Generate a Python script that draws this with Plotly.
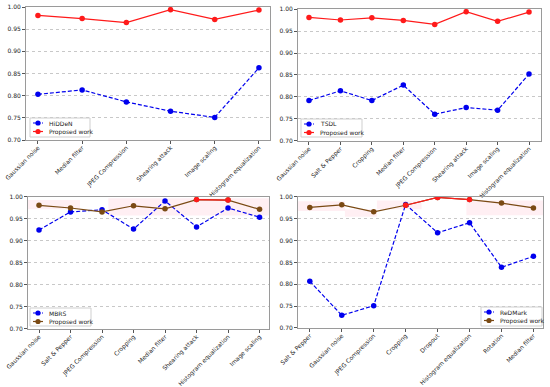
import plotly.graph_objects as go

# ---------------- data ----------------
cats1 = ["Gaussian noise", "Median filter", "JPEG Compression", "Shearing attack",
         "Image scaling", "Histogram equalization"]
hidden_vals = [0.803, 0.813, 0.786, 0.765, 0.751, 0.863]
prop1_vals = [0.981, 0.974, 0.965, 0.994, 0.972, 0.993]

cats2 = ["Gaussian noise", "Salt & Pepper", "Cropping", "Median filter",
         "JPEG Compression", "Shearing attack", "Image scaling", "Histogram equalization"]
tsdl_vals = [0.792, 0.814, 0.792, 0.827, 0.761, 0.776, 0.770, 0.852]
prop2_vals = [0.981, 0.975, 0.980, 0.974, 0.965, 0.994, 0.972, 0.993]

cats3 = ["Gaussian noise", "Salt & Pepper", "JPEG Compression", "Cropping",
         "Median filter", "Shearing attack", "Histogram equalization", "Image scaling"]
mbrs_vals = [0.925, 0.966, 0.971, 0.927, 0.991, 0.932, 0.975, 0.954]
prop3_vals = [0.981, 0.975, 0.966, 0.980, 0.973, 0.994, 0.993, 0.972]
red3_cats = ["Shearing attack", "Histogram equalization"]

cats4 = ["Salt & Pepper", "Gaussian noise", "JPEG Compression", "Cropping",
         "Dropout", "Histogram equalization", "Rotation", "Median filter"]
redmark_vals = [0.807, 0.729, 0.751, 0.983, 0.918, 0.941, 0.839, 0.864]
prop4_vals = [0.976, 0.982, 0.966, 0.981, 0.999, 0.994, 0.986, 0.975]
red4_cats = ["Cropping", "Dropout", "Histogram equalization"]

y_ticks = [0.70, 0.75, 0.80, 0.85, 0.90, 0.95, 1.00]

# ---------------- styling ----------------
BLUE = "#0000ee"
RED = "#ff1a1a"
BROWN = "#7a4a14"
FONT = "DejaVu Sans"
W, H = 550, 387

fig = go.Figure()

panels = [
    dict(cats=cats1, base=hidden_vals, base_name="HiDDeN", prop=prop1_vals, pcol=RED,
         red=None, ax="", legbox=(30, 118, 90, 137)),
    dict(cats=cats2, base=tsdl_vals, base_name="TSDL", prop=prop2_vals, pcol=RED,
         red=None, ax="2", legbox=(301, 119, 362, 137)),
    dict(cats=cats3, base=mbrs_vals, base_name="MBRS", prop=prop3_vals, pcol=BROWN,
         red=red3_cats, ax="3", legbox=(30, 308, 91, 326)),
    dict(cats=cats4, base=redmark_vals, base_name="ReDMark", prop=prop4_vals, pcol=BROWN,
         red=red4_cats, ax="4", legbox=(481, 307, 542, 326)),
]

for p in panels:
    xa = "x" + p["ax"]
    ya = "y" + p["ax"]
    fig.add_trace(go.Scatter(
        x=p["cats"], y=p["base"], name=p["base_name"], mode="lines+markers",
        line=dict(color=BLUE, width=1.2, dash="4px,2px"),
        marker=dict(color=BLUE, size=5.5), showlegend=False,
        xaxis=xa, yaxis=ya))
    fig.add_trace(go.Scatter(
        x=p["cats"], y=p["prop"], name="Proposed work", mode="lines+markers",
        line=dict(color=p["pcol"], width=1.2),
        marker=dict(color=p["pcol"], size=5.5), showlegend=False,
        xaxis=xa, yaxis=ya))
    if p["red"]:
        rv = [p["prop"][p["cats"].index(c)] for c in p["red"]]
        fig.add_trace(go.Scatter(
            x=p["red"], y=rv, mode="lines+markers", showlegend=False,
            line=dict(color=RED, width=1.2),
            marker=dict(color=RED, size=5.5),
            xaxis=xa, yaxis=ya))

# faint pink bands (bottom panels)
pink = "rgba(255,182,200,0.22)"
bands = [
    ("x3", "y3", -0.35, 1.3, 0.972, 0.993),
    ("x3", "y3", 2.2, 7.3, 0.958, 0.997),
    ("x4", "y4", -0.37, 1.1, 0.968, 0.990),
    ("x4", "y4", 1.1, 2.1, 0.955, 0.972),
    ("x4", "y4", 2.1, 3.5, 0.972, 0.992),
    ("x4", "y4", 4.9, 7.3, 0.958, 0.992),
]
for xr, yr, x0, x1, y0, y1 in bands:
    fig.add_shape(type="rect", xref=xr, yref=yr, x0=x0, x1=x1, y0=y0, y1=y1,
                  fillcolor=pink, line=dict(width=0), layer="below")


# ---------------- compact legends (matplotlib style) ----------------
def px(x):
    return x / W


def py(y):
    return 1 - y / H


def add_legend(box, entries):
    x0, y0, x1, y1 = box
    fig.add_shape(type="rect", xref="paper", yref="paper",
                  x0=px(x0), x1=px(x1), y0=py(y1), y1=py(y0),
                  fillcolor="rgba(255,255,255,0.85)", line=dict(color="#cfcfcf", width=1))
    rows = [y0 + 5, y0 + 13.5]
    for (label, color, dash), ry in zip(entries, rows):
        fig.add_shape(type="line", xref="paper", yref="paper",
                      x0=px(x0 + 3), x1=px(x0 + 13), y0=py(ry), y1=py(ry),
                      line=dict(color=color, width=1.2, dash=dash))
        r = 2.6
        fig.add_shape(type="circle", xref="paper", yref="paper",
                      x0=px(x0 + 8 - r), x1=px(x0 + 8 + r), y0=py(ry + r), y1=py(ry - r),
                      fillcolor=color, line=dict(color=color, width=0))
        fig.add_annotation(x=px(x0 + 16.5), y=py(ry), xref="paper", yref="paper",
                           text=label, showarrow=False, xanchor="left", yanchor="middle",
                           font=dict(family=FONT, size=6, color="#222"))


for p in panels:
    add_legend(p["legbox"], [(p["base_name"], BLUE, "3px,1.5px"),
                             ("Proposed work", p["pcol"], "solid")])

xdoms = [[0.0473, 0.4909], [0.5418, 0.9836], [0.0509, 0.4891], [0.5418, 0.9873]]
ydoms = [[0.6382, 0.9819], [0.6357, 0.9767], [0.1499, 0.4910], [0.1525, 0.4910]]
xranges = [[-0.27, 5.25], [-0.35, 7.38], [-0.35, 7.3], [-0.37, 7.3]]

axis_common = dict(showline=True, linecolor="#9a9a9a", linewidth=1, mirror=True,
                   ticks="outside", ticklen=3, tickcolor="#555", automargin=False,
                   tickfont=dict(family=FONT, size=6, color="#222"))

layout = dict(
    width=W, height=H, margin=dict(l=0, r=0, t=0, b=0),
    paper_bgcolor="white", plot_bgcolor="white", font=dict(family=FONT),
    showlegend=False,
)
for i in range(4):
    sfx = "" if i == 0 else str(i + 1)
    layout["xaxis" + sfx] = dict(
        domain=xdoms[i], range=xranges[i], type="category", showgrid=False,
        tickangle=-45, ticklabelstandoff=-2, anchor="y" + sfx, **axis_common)
    layout["yaxis" + sfx] = dict(
        domain=ydoms[i], range=[0.70, 1.00], tickvals=y_ticks,
        ticktext=[f"{v:.2f}" for v in y_ticks], showgrid=True,
        gridcolor="#c8c8c8", griddash="dot", gridwidth=1, zeroline=False,
        anchor="x" + sfx, **axis_common)

fig.update_layout(**layout)
fig.write_html(
    "out.html",
    config={"displayModeBar": False},
    post_script="document.body.style.margin='0';document.body.style.padding='0';"
                "document.body.style.overflow='hidden';",
)
